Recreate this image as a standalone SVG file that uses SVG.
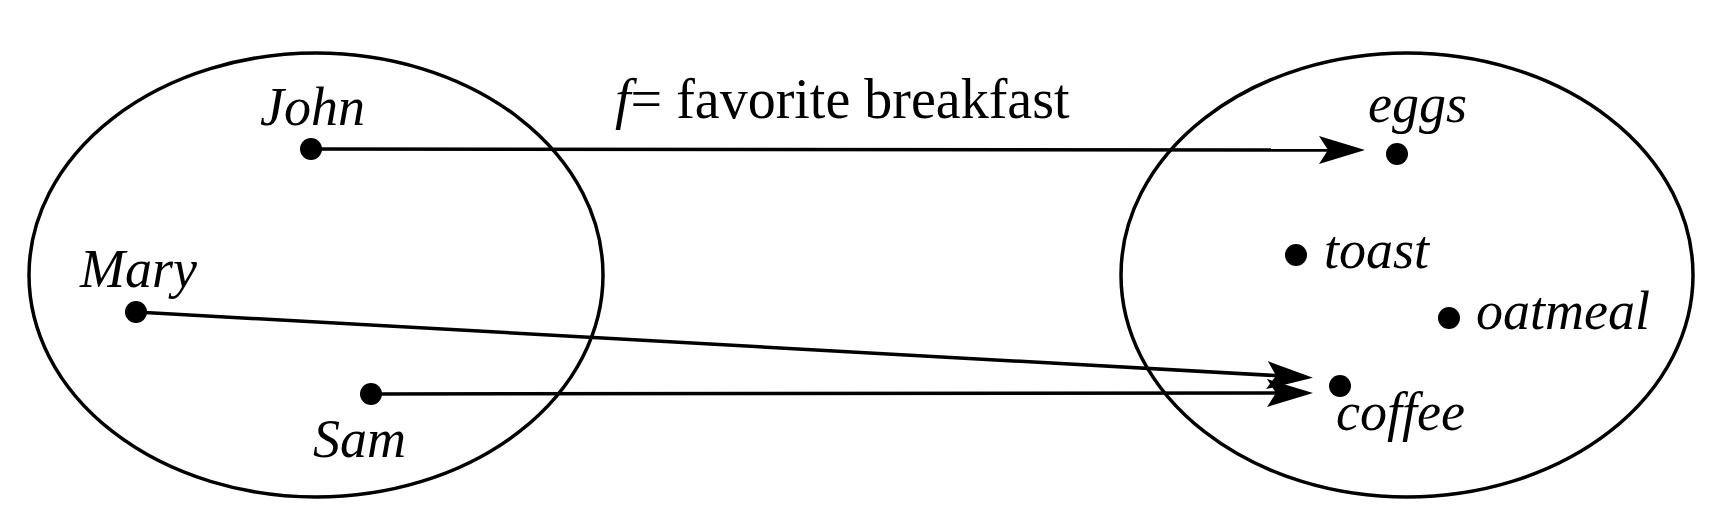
<svg xmlns="http://www.w3.org/2000/svg" width="1724" height="526" viewBox="0 0 1724 526">
<style>
text{font-family:"Liberation Serif","Times New Roman",serif;fill:#000;font-size:54px}
.title{font-size:56px}
.set{fill:none;stroke:#000;stroke-width:3.5}
.dot{fill:#000}
.lbl{font-style:italic}
.edge{stroke:#000;stroke-width:3.5;fill:none}
</style>
<defs>
<marker id="arr" markerUnits="userSpaceOnUse" markerWidth="50" markerHeight="34" viewBox="0 -17 50 34" refX="9" refY="0" orient="auto">
<path d="M0,-14 L46,0 L0,14 L9,0 Z" fill="#000"/>
</marker>
</defs>
<rect width="1724" height="526" fill="#fff"/>
<g id="domain"><ellipse class="set" cx="316" cy="275" rx="287" ry="222"/></g>
<g id="codomain"><ellipse class="set" cx="1407" cy="275" rx="286" ry="222"/></g>
<g id="connectors">
<line class="edge" x1="311" y1="149" x2="1328" y2="150" marker-end="url(#arr)"/>
<line class="edge" x1="136" y1="312" x2="1276" y2="375.6" marker-end="url(#arr)"/>
<line class="edge" x1="371" y1="394" x2="1276" y2="393" marker-end="url(#arr)"/>
</g>
<g id="title"><text class="title" x="615" y="118"><tspan font-style="italic">f</tspan>= favorite breakfast</text></g>
<g id="john"><circle class="dot" cx="311" cy="149" r="11"/><text class="lbl" x="260" y="125">John</text></g>
<g id="mary"><circle class="dot" cx="136" cy="312" r="11"/><text class="lbl" x="80" y="287">Mary</text></g>
<g id="sam"><circle class="dot" cx="371" cy="394" r="11"/><text class="lbl" x="313" y="457">Sam</text></g>
<g id="eggs"><circle class="dot" cx="1397" cy="154" r="11"/><text class="lbl" x="1368" y="122">eggs</text></g>
<g id="toast"><circle class="dot" cx="1296" cy="255" r="11"/><text class="lbl" x="1324" y="268">toast</text></g>
<g id="oatmeal"><circle class="dot" cx="1449" cy="318" r="11"/><text class="lbl" x="1476" y="329">oatmeal</text></g>
<g id="coffee"><circle class="dot" cx="1340" cy="386" r="11"/><text class="lbl" x="1336" y="430">coffee</text></g>
</svg>
